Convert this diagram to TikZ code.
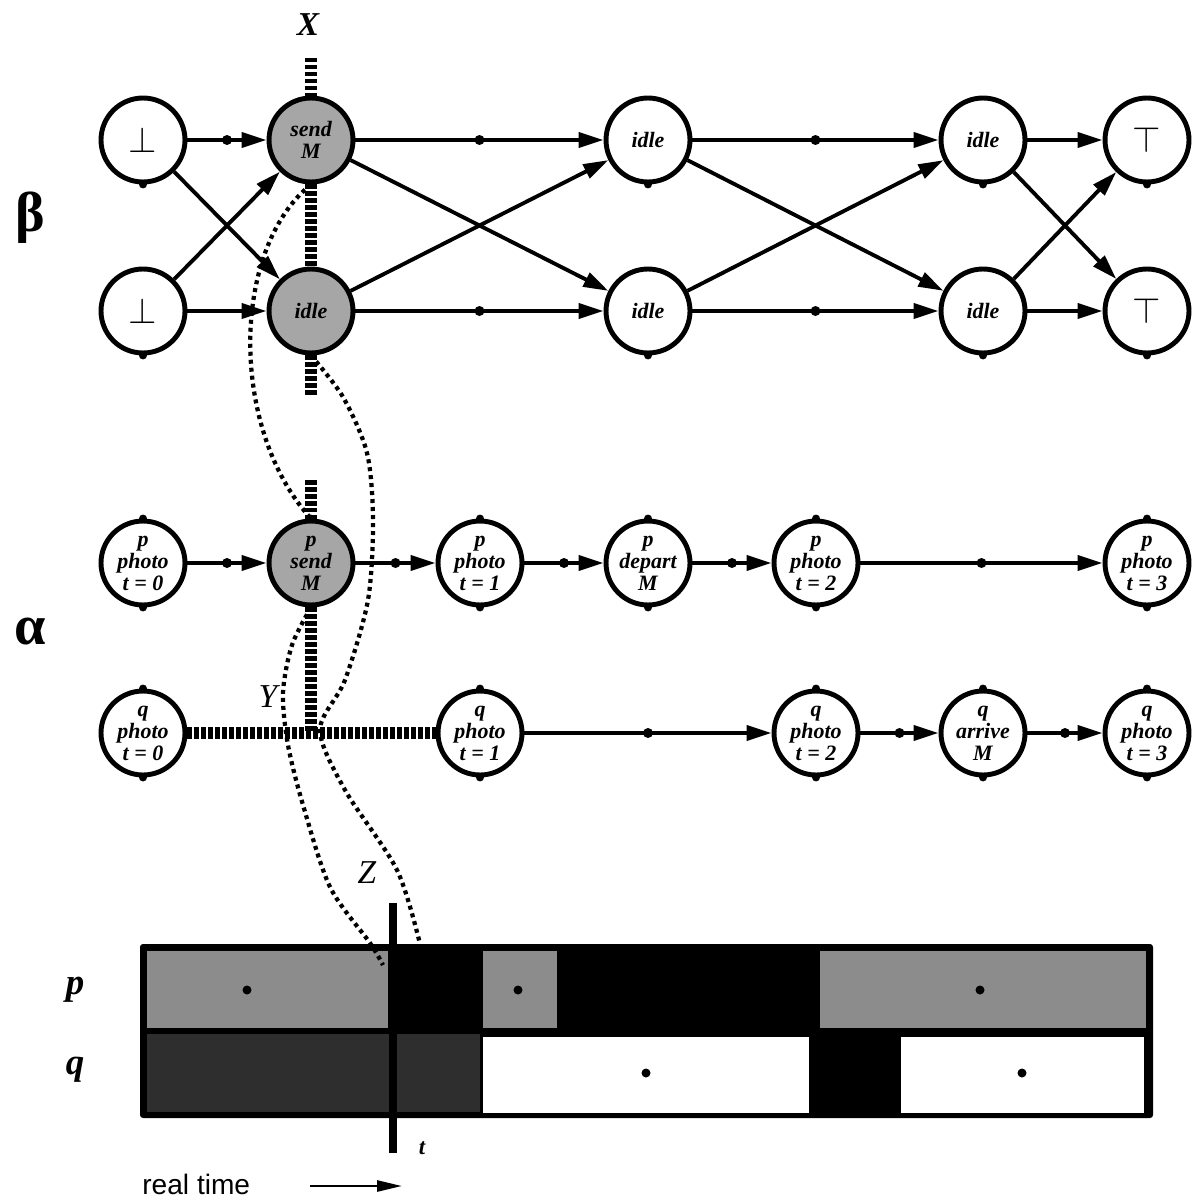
\documentclass[tikz,border=0pt]{standalone}
\usepackage{fontspec}
\setmainfont{Liberation Serif}
\setsansfont{Liberation Sans}
\usepackage{tikz}
\usetikzlibrary{arrows.meta}

\begin{document}
\begin{tikzpicture}[
x=0.02cm, y=-0.02cm,
state/.style={draw, circle, line width=2.8pt, minimum size=1.68cm, inner sep=-7pt, align=center, fill=white, font=\fontsize{12.5}{12.5}\selectfont\bfseries\itshape},
hot/.style={state, fill=black!35},
sym/.style={font=\fontsize{20}{20}\selectfont},
edge/.style={line width=2.2pt, -{Triangle[length=5mm,width=3mm]}},
mdot/.style={circle, fill, inner sep=0pt, minimum size=2mm},
cut/.style={line width=2.5mm, dash pattern=on 0.9mm off 0.5mm},
trace/.style={line width=0.85mm, dash pattern=on 0.8mm off 0.8mm},
lbl/.style={font=\fontsize{19}{19}\selectfont\itshape}
]
\useasboundingbox (0,0) rectangle (1191,1203);

% beta
\node[state, sym] (bb1) at (143,140) {$\bot$};
\node[hot] (bsend) at (311,140) {send\\M};
\node[state] (bi3) at (648,140) {idle};
\node[state] (bi5) at (983,140) {idle};
\node[state, sym] (bt7) at (1147,140) {$\top$};
\node[state, sym] (bb2) at (143,311) {$\bot$};
\node[hot] (bidle) at (311,311) {idle};
\node[state] (bi4) at (648,311) {idle};
\node[state] (bi6) at (983,311) {idle};
\node[state, sym] (bt8) at (1147,311) {$\top$};

% alpha
\node[state] (p0) at (143,563) {p\\photo\\t = 0};
\node[hot] (psend) at (311,563) {p\\send\\M};
\node[state] (p1) at (480,563) {p\\photo\\t = 1};
\node[state] (pdep) at (648,563) {p\\depart\\M};
\node[state] (p2) at (816,563) {p\\photo\\t = 2};
\node[state] (p3) at (1147,563) {p\\photo\\t = 3};
\node[state] (q0) at (143,733) {q\\photo\\t = 0};
\node[state] (q1) at (480,733) {q\\photo\\t = 1};
\node[state] (q2) at (816,733) {q\\photo\\t = 2};
\node[state] (qarr) at (983,733) {q\\arrive\\M};
\node[state] (q3) at (1147,733) {q\\photo\\t = 3};

\foreach \n in {bb1,bsend,bi3,bi5,bt7,bb2,bidle,bi4,bi6,bt8}
  \fill (\n.south) circle (0.8mm);
\foreach \n in {p0,psend,p1,pdep,p2,p3,q0,q1,q2,qarr,q3}
  {\fill (\n.north) circle (0.8mm); \fill (\n.south) circle (0.8mm);}

\node[font=\fontsize{32}{32}\selectfont\bfseries] (beta) at (30,218) {β};
\node[font=\fontsize{32}{32}\selectfont\bfseries] (alpha) at (30,632) {α};

\draw[edge] (bb1) -- node[mdot]{} (bsend);
\draw[edge] (bsend) -- node[mdot]{} (bi3);
\draw[edge] (bi3) -- node[mdot]{} (bi5);
\draw[edge] (bi5) -- (bt7);
\draw[edge] (bb2) -- (bidle);
\draw[edge] (bidle) -- node[mdot]{} (bi4);
\draw[edge] (bi4) -- node[mdot]{} (bi6);
\draw[edge] (bi6) -- (bt8);
\draw[edge] (bb1) -- (bidle);
\draw[edge] (bb2) -- (bsend);
\draw[edge] (bsend) -- (bi4);
\draw[edge] (bidle) -- (bi3);
\draw[edge] (bi3) -- (bi6);
\draw[edge] (bi4) -- (bi5);
\draw[edge] (bi5) -- (bt8);
\draw[edge] (bi6) -- (bt7);

\draw[edge] (p0) -- node[mdot]{} (psend);
\draw[edge] (psend) -- node[mdot]{} (p1);
\draw[edge] (p1) -- node[mdot]{} (pdep);
\draw[edge] (pdep) -- node[mdot]{} (p2);
\draw[edge] (p2) -- node[mdot]{} (p3);
\draw[edge] (q1) -- node[mdot]{} (q2);
\draw[edge] (q2) -- node[mdot]{} (qarr);
\draw[edge] (qarr) -- node[mdot]{} (q3);

% cuts
\coordinate (xtop) at (311,58);
\coordinate (xbot) at (311,395);
\coordinate (ptop) at (311,480);
\coordinate (ycross) at (psend |- q0);
\draw[cut] (xtop) -- (bsend.north);
\draw[cut] (bsend.south) -- (bidle.north);
\draw[cut] (bidle.south) -- (xbot);
\draw[cut] (ptop) -- (psend.north);
\draw[cut] (psend.south) -- (ycross);
\draw[cut] (q0) -- (q1);
\node[font=\fontsize{19}{19}\selectfont\bfseries\itshape] (xl) at (308,25) {X};
\node[lbl] (yl) at (268,697) {Y};
\node[lbl] (zl) at (367,873) {Z};

% real time bar
\fill[rounded corners=0.6mm] (140,944) rectangle (1153,1118);
\fill[black!45] (147,951) rectangle (388,1028);
\fill[black!45] (483,951) rectangle (557,1028);
\fill[black!45] (820,951) rectangle (1146,1028);
\fill[black!82] (147,1034) rectangle (480,1112);
\fill[white] (483,1037) rectangle (809,1113);
\fill[white] (901,1037) rectangle (1144,1113);
\foreach \p in {(247,990),(518,990),(980,990),(646,1073),(1022,1073)}
  \fill \p circle (0.9mm);
\draw[line width=1.6mm] (393,903) -- (393,1153);
\node[font=\fontsize{21}{21}\selectfont\bfseries\itshape] (prow) at (75,990) {p};
\node[font=\fontsize{21}{21}\selectfont\bfseries\itshape] (qrow) at (75,1070) {q};
\node[font=\fontsize{13}{13}\selectfont\bfseries\itshape] (tl) at (422,1148) {t};
\node[font=\sffamily\fontsize{16}{16}\selectfont, anchor=west, inner sep=0pt] (rt) at (142,1184) {real time};
\coordinate (rta) at (310,1186);
\coordinate (rtb) at (402,1186);
\draw[line width=1.5pt, -{Triangle[length=5mm,width=2.2mm]}] (rta) -- (rtb);

% traces
\coordinate (zb) at (420,944);
\coordinate (zc) at (383,965);
\draw[trace] (bsend.south) .. controls (230,250) and (230,430) .. (psend.north);
\draw[trace] plot[smooth] coordinates {(bidle.south) (343,397) (367,453) (373,520) (368,600) (345,680) (320,730) (345,790) (397,870) (zb)};
\draw[trace] plot[smooth] coordinates {(psend.south) (292,645) (283,693) (288,745) (303,805) (330,887) (370,943) (zc)};
\end{tikzpicture}
\end{document}
